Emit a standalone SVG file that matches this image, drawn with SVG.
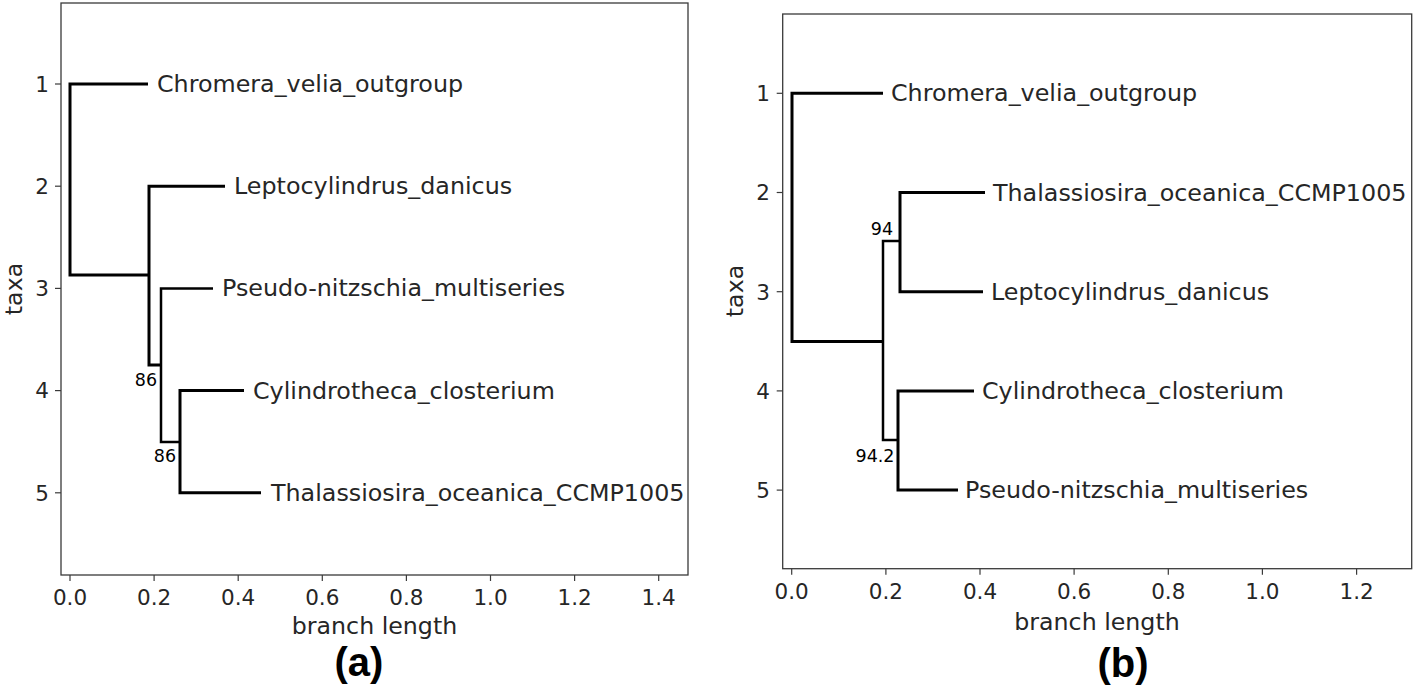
<svg xmlns="http://www.w3.org/2000/svg" width="1415" height="688" viewBox="0 0 1415 688">
<style>
.frame{fill:none;stroke:#3a3a3a;stroke-width:1.3}
.tick{stroke:#3a3a3a;stroke-width:1.2}
.tl{font-family:"DejaVu Sans",sans-serif;font-size:21.5px;fill:#262626}
.ax{font-family:"DejaVu Sans",sans-serif;font-size:23.7px;fill:#262626}
.tx{font-family:"DejaVu Sans",sans-serif;font-size:23.8px;fill:#262626}
.sup{font-family:"DejaVu Sans",sans-serif;font-size:17.5px;fill:#000}
.br{fill:none;stroke:#000;stroke-width:3;stroke-linejoin:miter}
.bi{fill:none;stroke:#000;stroke-width:2.5;stroke-linejoin:miter}
.pl{font-family:"Liberation Sans",Arial,sans-serif;font-size:40px;font-weight:bold;fill:#000}
</style>
<rect width="1415" height="688" fill="#fff"/>

<g id="panel-a-axes">
<rect class="frame" x="61" y="3" width="627" height="572"/>
<g class="tick">
<line x1="70" y1="575" x2="70" y2="581"/><line x1="154.1" y1="575" x2="154.1" y2="581"/><line x1="238.2" y1="575" x2="238.2" y2="581"/><line x1="322.3" y1="575" x2="322.3" y2="581"/><line x1="406.4" y1="575" x2="406.4" y2="581"/><line x1="490.5" y1="575" x2="490.5" y2="581"/><line x1="574.6" y1="575" x2="574.6" y2="581"/><line x1="658.7" y1="575" x2="658.7" y2="581"/>
<line x1="55" y1="84" x2="61" y2="84"/><line x1="55" y1="186.2" x2="61" y2="186.2"/><line x1="55" y1="288.4" x2="61" y2="288.4"/><line x1="55" y1="390.6" x2="61" y2="390.6"/><line x1="55" y1="492.8" x2="61" y2="492.8"/>
</g>
<g class="tl" text-anchor="middle">
<text x="70" y="605">0.0</text><text x="154.1" y="605">0.2</text><text x="238.2" y="605">0.4</text><text x="322.3" y="605">0.6</text><text x="406.4" y="605">0.8</text><text x="490.5" y="605">1.0</text><text x="574.6" y="605">1.2</text><text x="658.7" y="605">1.4</text>
</g>
<g class="tl" text-anchor="end">
<text x="49" y="91.8">1</text><text x="49" y="194">2</text><text x="49" y="296.2">3</text><text x="49" y="398.4">4</text><text x="49" y="500.6">5</text>
</g>
<text class="ax" x="374.5" y="634" text-anchor="middle">branch length</text>
<text class="ax" transform="translate(21.5,289) rotate(-90)" text-anchor="middle">taxa</text>
<text class="pl" x="359" y="676" text-anchor="middle">(a)</text>
</g>

<g id="panel-a-connectors">
<path class="br" d="M148,84 H70 V275 H149"/>
<path class="br" d="M225,186.2 H149 V365 H161"/>
<path class="bi" d="M213,288.4 H161 V442 H180"/>
<path class="br" d="M244,390.6 H180 V492.8 H261"/>
</g>

<g id="panel-a-nodes">
<g id="a-chromera"><text class="tx" x="157" y="92">Chromera_velia_outgroup</text></g>
<g id="a-lepto"><text class="tx" x="234" y="194.2">Leptocylindrus_danicus</text></g>
<g id="a-pseudo"><text class="tx" x="222" y="296.4">Pseudo-nitzschia_multiseries</text></g>
<g id="a-cylindro"><text class="tx" x="253" y="398.6">Cylindrotheca_closterium</text></g>
<g id="a-thal"><text class="tx" x="271" y="500.8">Thalassiosira_oceanica_CCMP1005</text></g>
<g id="a-sup1"><text class="sup" x="146" y="386" text-anchor="middle">86</text></g>
<g id="a-sup2"><text class="sup" x="165" y="462" text-anchor="middle">86</text></g>
</g>

<g id="panel-b-axes">
<rect class="frame" x="782.7" y="14" width="629" height="554.7"/>
<g class="tick">
<line x1="791.7" y1="568.7" x2="791.7" y2="574.7"/><line x1="885.9" y1="568.7" x2="885.9" y2="574.7"/><line x1="980" y1="568.7" x2="980" y2="574.7"/><line x1="1074.1" y1="568.7" x2="1074.1" y2="574.7"/><line x1="1168.3" y1="568.7" x2="1168.3" y2="574.7"/><line x1="1262.4" y1="568.7" x2="1262.4" y2="574.7"/><line x1="1356.6" y1="568.7" x2="1356.6" y2="574.7"/>
<line x1="776.7" y1="93.3" x2="782.7" y2="93.3"/><line x1="776.7" y1="192.5" x2="782.7" y2="192.5"/><line x1="776.7" y1="291.7" x2="782.7" y2="291.7"/><line x1="776.7" y1="390.9" x2="782.7" y2="390.9"/><line x1="776.7" y1="490.1" x2="782.7" y2="490.1"/>
</g>
<g class="tl" text-anchor="middle">
<text x="791.7" y="599">0.0</text><text x="885.9" y="599">0.2</text><text x="980" y="599">0.4</text><text x="1074.1" y="599">0.6</text><text x="1168.3" y="599">0.8</text><text x="1262.4" y="599">1.0</text><text x="1356.6" y="599">1.2</text>
</g>
<g class="tl" text-anchor="end">
<text x="770" y="101.1">1</text><text x="770" y="200.3">2</text><text x="770" y="299.5">3</text><text x="770" y="398.7">4</text><text x="770" y="497.9">5</text>
</g>
<text class="ax" x="1097" y="630" text-anchor="middle">branch length</text>
<text class="ax" transform="translate(743,291) rotate(-90)" text-anchor="middle">taxa</text>
<text class="pl" x="1123" y="677" text-anchor="middle">(b)</text>
</g>

<g id="panel-b-connectors">
<path class="br" d="M883,93.3 H792 V341.5 H883"/>
<path class="bi" d="M900,241 H883 V440 H898"/>
<path class="br" d="M985,192.5 H900 V291.7 H983"/>
<path class="br" d="M974,390.9 H898 V490.1 H958"/>
</g>

<g id="panel-b-nodes">
<g id="b-chromera"><text class="tx" x="891" y="101.3">Chromera_velia_outgroup</text></g>
<g id="b-thal"><text class="tx" x="993" y="200.5">Thalassiosira_oceanica_CCMP1005</text></g>
<g id="b-lepto"><text class="tx" x="991" y="299.7">Leptocylindrus_danicus</text></g>
<g id="b-cylindro"><text class="tx" x="982" y="398.9">Cylindrotheca_closterium</text></g>
<g id="b-pseudo"><text class="tx" x="965" y="498.1">Pseudo-nitzschia_multiseries</text></g>
<g id="b-sup1"><text class="sup" x="882" y="235" text-anchor="middle">94</text></g>
<g id="b-sup2"><text class="sup" x="875" y="462" text-anchor="middle">94.2</text></g>
</g>
</svg>
